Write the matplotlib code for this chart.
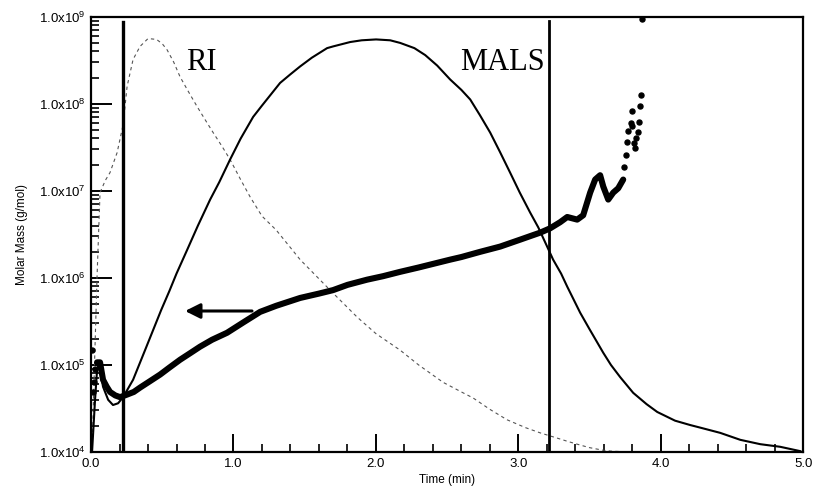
import numpy as np
import matplotlib
matplotlib.use("Agg")
import matplotlib.pyplot as plt
from matplotlib.ticker import FixedLocator, LogLocator, NullFormatter, MultipleLocator

plt.rcParams['font.family'] = ['Liberation Sans', 'DejaVu Sans']
plt.rcParams['mathtext.fontset'] = 'custom'
plt.rcParams['mathtext.rm'] = 'Liberation Sans'
plt.rcParams['mathtext.default'] = 'rm'

# RI trace (dashed), time (min) and log10 of plotted value
ri_t = [0.007, 0.021, 0.042, 0.063, 0.10, 0.133, 0.183, 0.225, 0.253, 0.295, 0.344, 0.40,
        0.46, 0.50, 0.534, 0.58, 0.625, 0.68, 0.744, 0.80, 0.857, 0.92, 0.976, 1.05, 1.117,
        1.20, 1.30, 1.468, 1.60, 1.678, 1.868, 2.0, 2.170, 2.30, 2.472, 2.60,
        2.683, 2.80, 2.921, 3.05, 3.153, 3.272, 3.35, 3.434, 3.50, 3.596, 3.65, 3.785]
ri_log = [4.0, 4.83, 6.01, 6.98, 7.12, 7.21, 7.44, 7.76, 8.20, 8.51, 8.66, 8.75,
          8.74, 8.69, 8.62, 8.48, 8.31, 8.15, 7.97, 7.82, 7.67, 7.51, 7.36, 7.13, 6.93,
          6.71, 6.55, 6.21, 5.99, 5.86, 5.55, 5.36, 5.17, 5.00, 4.80, 4.69,
          4.62, 4.49, 4.37, 4.28, 4.22, 4.16, 4.12, 4.08, 4.05, 4.02, 4.01, 4.0]

# MALS trace (thin solid)
mals_t = [0.007, 0.028, 0.042, 0.056, 0.084, 0.12, 0.154, 0.19, 0.225, 0.295, 0.379, 0.492,
          0.55, 0.60, 0.674, 0.75, 0.836, 0.90, 0.976, 1.05, 1.138, 1.20, 1.327, 1.40,
          1.468, 1.55, 1.657, 1.70, 1.819, 1.90, 2.001, 2.10, 2.17, 2.27, 2.346, 2.43,
          2.521, 2.60, 2.662, 2.73, 2.802, 2.87, 2.942, 3.01, 3.083, 3.14, 3.202, 3.244,
          3.30, 3.343, 3.434, 3.50, 3.596, 3.65, 3.715, 3.806, 3.90, 3.975, 4.10, 4.206,
          4.277, 4.417, 4.558, 4.698, 4.838, 4.979]
mals_log = [4.0, 4.60, 4.94, 5.02, 4.75, 4.60, 4.54, 4.56, 4.63, 4.83, 5.17, 5.63,
            5.85, 6.05, 6.32, 6.60, 6.90, 7.10, 7.36, 7.60, 7.85, 7.98, 8.24, 8.34,
            8.43, 8.53, 8.64, 8.66, 8.71, 8.73, 8.74, 8.73, 8.70, 8.64, 8.56, 8.44,
            8.28, 8.16, 8.05, 7.87, 7.67, 7.45, 7.21, 6.98, 6.75, 6.58, 6.36, 6.21,
            6.05, 5.90, 5.60, 5.41, 5.14, 5.00, 4.86, 4.68, 4.55, 4.46, 4.36, 4.31,
            4.28, 4.22, 4.14, 4.09, 4.06, 4.01]

# Molar mass (dense dotted trace)
mm_t = [0.042, 0.063, 0.084, 0.11, 0.133, 0.17, 0.204, 0.253, 0.30, 0.344, 0.41, 0.485,
        0.55, 0.625, 0.70, 0.765, 0.85, 0.955, 1.07, 1.187, 1.30, 1.468, 1.60, 1.699,
        1.80, 1.938, 2.05, 2.170, 2.30, 2.521, 2.60, 2.732, 2.872, 3.013, 3.10, 3.153,
        3.223, 3.293, 3.343, 3.413, 3.455, 3.504, 3.539, 3.574, 3.596, 3.631, 3.666,
        3.701, 3.736]
mm_log = [5.03, 5.03, 4.83, 4.75, 4.69, 4.65, 4.63, 4.66, 4.69, 4.74, 4.81, 4.89,
          4.97, 5.06, 5.14, 5.21, 5.29, 5.37, 5.49, 5.61, 5.68, 5.77, 5.82, 5.86,
          5.92, 5.98, 6.02, 6.07, 6.12, 6.21, 6.24, 6.30, 6.36, 6.44, 6.49, 6.52,
          6.57, 6.64, 6.70, 6.67, 6.72, 6.98, 7.13, 7.18, 7.05, 6.90, 6.98,
          7.03, 7.13]

# Molar mass scattered points
sc_t = [0.007, 0.014, 0.021, 0.030, 3.743, 3.757, 3.764, 3.771, 3.792, 3.799, 3.799,
        3.813, 3.820, 3.827, 3.841, 3.848, 3.855, 3.862, 3.87]
sc_log = [5.17, 4.69, 4.80, 4.95, 7.28, 7.41, 7.56, 7.69, 7.78, 7.75, 7.92,
          7.55, 7.49, 7.61, 7.68, 7.79, 7.98, 8.10, 8.98]

y_tick_exp = [4, 5, 6, 7, 8, 9]
x_ticks = [0.0, 1.0, 2.0, 3.0, 4.0, 5.0]
ri_line_t = 0.225
mals_line_t = 3.215

fig = plt.figure(figsize=(8.13, 4.94), dpi=100)
ax = fig.add_axes([0.112, 0.085, 0.876, 0.881])
ax.set_yscale('log')
ax.set_xlim(0, 5)
ax.set_ylim(1e4, 1e9)

ax.plot(ri_t, 10 ** np.array(ri_log), color='#555555', lw=0.8, ls=(0, (3, 3)))
ax.plot(mals_t, 10 ** np.array(mals_log), color='black', lw=1.5)
ax.plot(mm_t, 10 ** np.array(mm_log), color='black', lw=4.4, solid_capstyle='round',
        solid_joinstyle='round')
ax.plot(sc_t, 10 ** np.array(sc_log), ls='none', marker='o', ms=3.6, color='black')

ax.axvline(ri_line_t, ymax=0.988, color='black', lw=2.4)
ax.axvline(mals_line_t, ymax=0.99, color='black', lw=2.0)

ax.annotate('', xy=(0.66, 10 ** 5.62), xytext=(1.13, 10 ** 5.62),
            arrowprops=dict(arrowstyle='-|>,head_length=0.9,head_width=0.45',
                            color='black', lw=2.2, shrinkA=0, shrinkB=0))

ax.text(0.67, 10 ** 8.39, 'RI', family='Liberation Serif', fontsize=22, va='baseline')
ax.text(2.59, 10 ** 8.39, 'MALS', family='Liberation Serif', fontsize=22, va='baseline')

ax.yaxis.set_major_locator(FixedLocator([10.0 ** e for e in y_tick_exp]))
ax.set_yticklabels(['1.0x10$^{%d}$' % e for e in y_tick_exp])
ax.yaxis.set_minor_locator(LogLocator(base=10, subs=np.arange(2, 10)))
ax.yaxis.set_minor_formatter(NullFormatter())
ax.set_xticks(x_ticks)
ax.set_xticklabels(['%.1f' % v for v in x_ticks])
ax.xaxis.set_minor_locator(MultipleLocator(0.2))

ax.tick_params(which='major', direction='in', length=13, width=1.4, labelsize=9.5, pad=4)
ax.tick_params(which='minor', direction='in', length=6, width=1.2)
ax.tick_params(axis='y', which='major', length=15)
for s in ax.spines.values():
    s.set_linewidth(1.6)

ax.set_xlabel('Time (min)', fontsize=8.5, labelpad=3)
ax.set_ylabel('Molar Mass (g/mol)', fontsize=8.5, labelpad=8)

fig.savefig('out.png', dpi=100)
